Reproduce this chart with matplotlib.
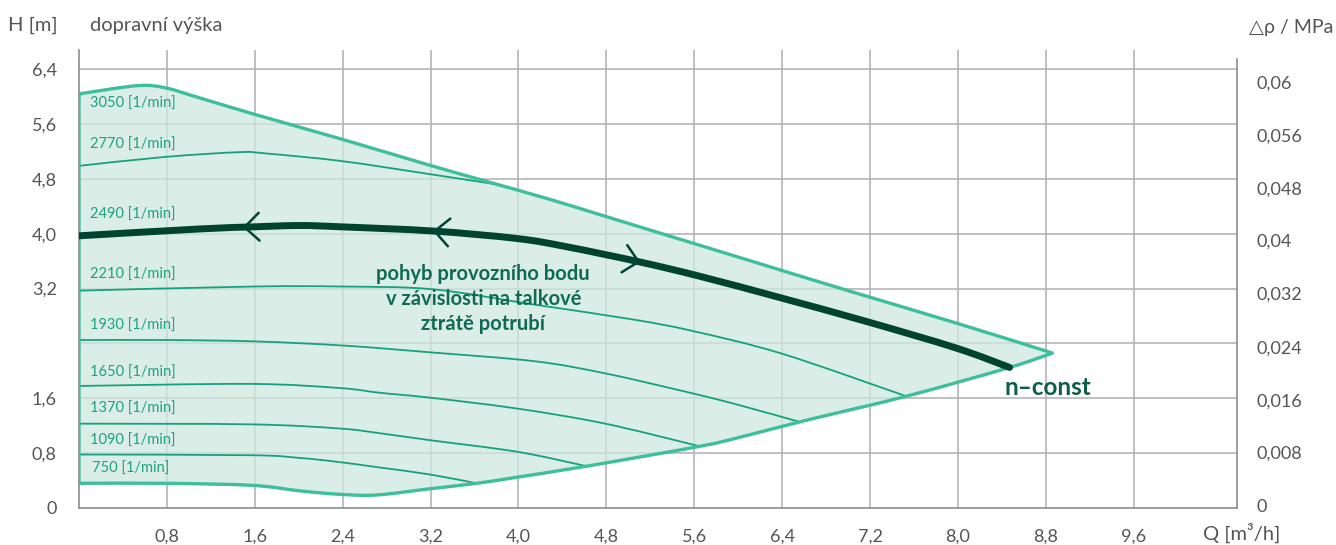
import numpy as np
import matplotlib.pyplot as plt
from matplotlib.path import Path
from matplotlib.patches import PathPatch

plt.rcParams['font.family'] = ['Lato', 'DejaVu Sans']

# ── data (Q in m3/h, H in m) ──
# envelope: max speed (3050 1/min) on top, 750 1/min + right limit below
Q_UPPER = [0, 0.53, 0.78, 1.04, 1.58, 2.39, 3.19, 3.74, 4.31, 4.9, 6.0, 7.0, 8.0, 8.86]
H_UPPER = [6.04, 6.16, 6.13, 6.01, 5.75, 5.38, 5.0, 4.75, 4.49, 4.2, 3.66, 3.17, 2.69, 2.26]
Q_LOWER = [0, 0.8, 1.58, 2.01, 2.37, 2.71, 3.19, 3.62, 3.99, 4.62, 5.65, 6.01, 6.62, 7.53, 8.47, 8.86]
H_LOWER = [0.36, 0.36, 0.33, 0.25, 0.20, 0.19, 0.28, 0.36, 0.45, 0.61, 0.90, 1.03, 1.28, 1.63, 2.05, 2.26]

Q_2770 = [0, 0.78, 1.46, 1.71, 2.39, 3.19, 3.8]
H_2770 = [4.99, 5.12, 5.19, 5.17, 5.06, 4.87, 4.72]
Q_2490 = [0, 1.10, 1.58, 2.01, 2.40, 3.22, 3.99, 4.44, 5.10, 5.65, 6.40, 7.19, 7.99, 8.47]
H_2490 = [3.97, 4.07, 4.10, 4.12, 4.10, 4.04, 3.93, 3.81, 3.59, 3.38, 3.06, 2.71, 2.33, 2.05]
Q_2210 = [0, 1.58, 2.4, 3.22, 4.13, 5.04, 5.59, 6.40, 7.53]
H_2210 = [3.17, 3.23, 3.23, 3.19, 2.97, 2.75, 2.58, 2.25, 1.63]
Q_1930 = [0, 0.8, 1.6, 2.4, 3.2, 4.15, 4.8, 5.59, 6.01, 6.55]
H_1930 = [2.45, 2.45, 2.43, 2.37, 2.27, 2.14, 1.96, 1.67, 1.50, 1.26]
Q_1650 = [0, 1.56, 2.37, 2.74, 3.19, 3.99, 4.79, 5.65]
H_1650 = [1.78, 1.81, 1.75, 1.68, 1.61, 1.45, 1.23, 0.90]
Q_1370 = [0, 1.56, 2.37, 2.74, 3.19, 3.99, 4.62]
H_1370 = [1.23, 1.22, 1.16, 1.09, 0.99, 0.82, 0.61]
Q_1090 = [0, 1.56, 2.01, 2.37, 2.74, 3.19, 3.62]
H_1090 = [0.78, 0.77, 0.73, 0.67, 0.59, 0.49, 0.36]

SPEED_LABELS = ["3050", "2770", "2490", "2210", "1930", "1650", "1370", "1090", "750"]
SPEED_LABEL_H = [5.90, 5.29, 4.28, 3.40, 2.65, 1.97, 1.44, 0.98, 0.57]

# operating point arrows on the n-const line: (Q, direction)
ARROWS_Q = [1.49, 3.22, 5.11]
ARROWS_DIR = [-1, -1, 1]

X_TICKS = [0.8, 1.6, 2.4, 3.2, 4.0, 4.8, 5.6, 6.4, 7.2, 8.0, 8.8, 9.6]
Y_TICKS = [0, 0.8, 1.6, 3.2, 4.0, 4.8, 5.6, 6.4]
DP_LABELS = ["0", "0,008", "0,016", "0,024", "0,032", "0,04", "0,048", "0,056", "0,06"]
DP_POS = [0.03, 0.81, 1.58, 2.34, 3.13, 3.90, 4.67, 5.44, 6.21]

GREY = "#555555"
GRID = "#b5b5b5"
EDGE = "#3dbf9b"
THIN = "#14a27d"
LABEL = "#1ba27f"
DARK = "#00442f"
TEXT_DARK = "#0f6a54"


def smooth_verts(q, h):
    # cubic bezier pieces through the read points (catmull-rom tangents)
    pts = np.column_stack([q, h]).astype(float)
    verts, codes = [pts[0]], [Path.MOVETO]
    n = len(pts)
    for i in range(n - 1):
        p0 = pts[i - 1] if i > 0 else pts[i]
        p1, p2 = pts[i], pts[i + 1]
        p3 = pts[i + 2] if i + 2 < n else pts[i + 1]
        verts += [p1 + (p2 - p0) / 6, p2 - (p3 - p1) / 6, p2]
        codes += [Path.CURVE4] * 3
    return verts, codes


def curve(ax, q, h, **kw):
    v, c = smooth_verts(q, h)
    ax.add_patch(PathPatch(Path(v, c), fill=False, **kw))


fig = plt.figure(figsize=(13.36, 5.45), dpi=100)
ax = fig.add_axes([79 / 1336, 37 / 545, (1237 - 79) / 1336, 458 / 545])
ax.set_xlim(0, 10.54)
ax.set_ylim(0, 6.68)

# grid
for x in X_TICKS:
    ax.axvline(x, color=GRID, lw=1.2, zorder=0)
for y in np.arange(0.8, 6.41, 0.8):
    ax.axhline(y, color=GRID, lw=1.2, zorder=0)

ax.spines["top"].set_visible(False)
for s in ["left", "bottom", "right"]:
    ax.spines[s].set_color("#8c8c8c")
    ax.spines[s].set_linewidth(1.2)
ax.spines["right"].set_bounds(0, 6.55)

# envelope: upper curve to the tip, lower curve back, closed along Q=0
vu, cu = smooth_verts(Q_UPPER, H_UPPER)
vl, cl = smooth_verts(Q_LOWER[::-1], H_LOWER[::-1])
env_v = vu + vl[1:] + [vu[0]]
env_c = cu + cl[1:] + [Path.LINETO]
env = Path(env_v, env_c)
ax.add_patch(PathPatch(env, facecolor="#cfe8e0", alpha=0.75, edgecolor="none", zorder=1))
ax.add_patch(PathPatch(env, fill=False, edgecolor=EDGE, lw=2.4, joinstyle="round", zorder=3))

# speed curves
for q, h in [(Q_2770, H_2770), (Q_2210, H_2210), (Q_1930, H_1930), (Q_1650, H_1650),
             (Q_1370, H_1370), (Q_1090, H_1090)]:
    curve(ax, q, h, edgecolor=THIN, lw=1.3, zorder=2)

# n-const curve
curve(ax, Q_2490, H_2490, edgecolor=DARK, lw=5, capstyle="round", zorder=4)
for qa, d in zip(ARROWS_Q, ARROWS_DIR):
    ha = np.interp(qa, Q_2490, H_2490)
    qb = qa - d * 0.15
    hb = np.interp(qb, Q_2490, H_2490)
    ax.annotate("", xy=(qa, ha), xytext=(qb, hb),
                arrowprops=dict(arrowstyle="->,head_length=1.05,head_width=1.0",
                                color=DARK, lw=1.8, shrinkA=0, shrinkB=0,
                                mutation_scale=10), zorder=5)

# speed labels
for lab, h in zip(SPEED_LABELS, SPEED_LABEL_H):
    ax.text(0.1 if lab != "750" else 0.12, h, lab + " [1/min]", color=LABEL, fontsize=10.5,
            va="center", ha="left", zorder=6)

ax.text(3.68, 3.05, "pohyb provozního bodu\nv závislosti na talkové\nztrátě potrubí",
        color=TEXT_DARK, fontsize=14.5, fontweight="bold", ha="center", va="center",
        linespacing=1.3, zorder=6)
ax.text(8.42, 1.76, "n–const", color="#0d5e48", fontsize=17.5, fontweight="bold",
        ha="left", va="center", zorder=6)

# axes ticks
ax.set_xticks(X_TICKS)
ax.set_xticklabels([("%.1f" % v).replace(".", ",") for v in X_TICKS])
ax.set_yticks(Y_TICKS)
ax.set_yticklabels(["0" if v == 0 else ("%.1f" % v).replace(".", ",") for v in Y_TICKS])
ax.tick_params(axis="x", length=0, pad=15, labelsize=13, labelcolor=GREY)
ax.tick_params(axis="y", length=0, pad=16, labelsize=13, labelcolor=GREY)

ax2 = ax.twinx()
ax2.set_ylim(ax.get_ylim())
ax2.set_yticks(DP_POS)
ax2.set_yticklabels(DP_LABELS)
ax2.tick_params(axis="y", length=0, pad=14, labelsize=13, labelcolor=GREY)
for s in ax2.spines.values():
    s.set_visible(False)

fig.text(8 / 1336, 1 - 25 / 545, "H [m]", color=GREY, fontsize=14.5, va="center", ha="left")
fig.text(90 / 1336, 1 - 25 / 545, "dopravní výška", color=GREY, fontsize=14.5, va="center", ha="left")
fig.text(1333 / 1336, 1 - 28 / 545, "△ρ / MPa", color=GREY, fontsize=14, va="center", ha="right")
fig.text(1280 / 1336, 1 - 533 / 545, "Q [m³/h]", color=GREY, fontsize=14.5, va="center", ha="right")

fig.savefig("out.png", dpi=100)
